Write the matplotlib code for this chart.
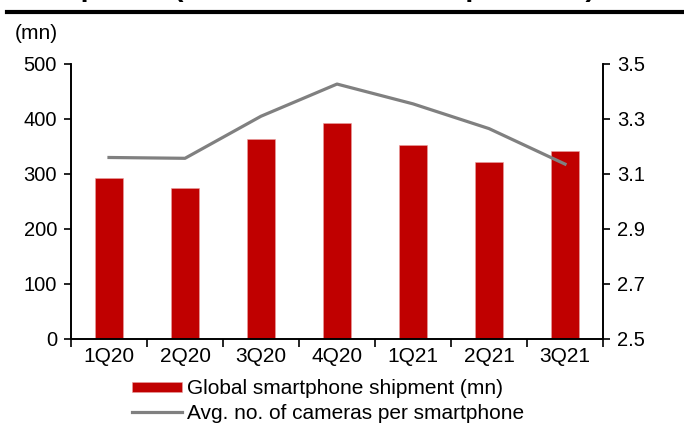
import matplotlib
matplotlib.use("Agg")
import matplotlib.pyplot as plt
from matplotlib.lines import Line2D
from matplotlib.patches import Patch
import numpy as np

plt.rcParams["font.family"] = ["Liberation Sans", "DejaVu Sans"]

quarters = ["1Q20", "2Q20", "3Q20", "4Q20", "1Q21", "2Q21", "3Q21"]
shipments = [293, 274, 364, 393, 353, 322, 342]
cameras = [3.16, 3.157, 3.31, 3.427, 3.355, 3.265, 3.136]

bar_color = "#C00000"
line_color = "#808080"

fig = plt.figure(figsize=(6.84, 4.32), dpi=100)
ax = fig.add_axes([0.1038, 0.2153, 0.7778, 0.6366])
ax2 = ax.twinx()

x = np.arange(len(quarters))
ax.bar(x, shipments, width=0.375, color=bar_color, edgecolor="#e8a0a0",
       linewidth=0.4, zorder=2)
ax2.plot(x, cameras, color=line_color, linewidth=2.3, zorder=3)

ax.set_xlim(-0.5, len(quarters) - 0.5)
ax.set_ylim(0, 500)
ax.set_yticks(range(0, 501, 100))
ax2.set_ylim(2.5, 3.5)
ax2.set_yticks([2.5, 2.7, 2.9, 3.1, 3.3, 3.5])
ax2.set_yticklabels(["2.5", "2.7", "2.9", "3.1", "3.3", "3.5"])

# category labels centred, ticks on the boundaries
ax.set_xticks(np.arange(-0.5, len(quarters)), minor=False)
ax.set_xticklabels([])
ax.set_xticks(x, minor=True)
ax.set_xticklabels(quarters, minor=True)
ax.tick_params(axis="x", which="minor", length=0, labelsize=15, pad=6)
ax.tick_params(axis="x", which="major", direction="out", length=6, width=1.2)
ax.tick_params(axis="y", direction="out", length=5, width=1.2, labelsize=14.5, pad=5)
ax2.tick_params(axis="y", direction="out", length=5, width=1.2, labelsize=14.5, pad=5)

for a in (ax, ax2):
    a.spines["top"].set_visible(False)
    for s in ("left", "right", "bottom"):
        a.spines[s].set_linewidth(1.2)
ax.set_zorder(ax2.get_zorder() - 1)
ax.patch.set_visible(True)
ax2.patch.set_visible(False)

fig.text(0.021, 0.923, "(mn)", fontsize=15, va="center", ha="left")

# heading above the rule (mostly outside the canvas)
fig.text(0.0, 1 + 4 / 432, "Smartphone (restated: model of top brands)",
         fontsize=20.5, fontweight="bold", va="baseline", ha="left")
fig.add_artist(Line2D([7 / 684, 1.0], [1 - 12 / 432, 1 - 12 / 432],
                      color="black", linewidth=3, transform=fig.transFigure))

handles = [Patch(facecolor=bar_color, edgecolor="#e8a0a0", linewidth=0.4),
           Line2D([], [], color=line_color, linewidth=2.3)]
labels = ["Global smartphone shipment (mn)", "Avg. no. of cameras per smartphone"]
fig.legend(handles, labels, loc="upper left", bbox_to_anchor=(0.193, 0.122),
           frameon=False, fontsize=15, handlelength=2.4, handleheight=0.4,
           handletextpad=0.25, labelspacing=0.25, borderpad=0, borderaxespad=0)

fig.savefig("out.png", dpi=100)
